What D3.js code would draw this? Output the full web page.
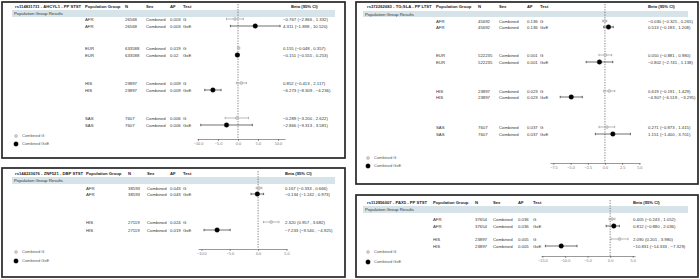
<!DOCTYPE html>
<html>
<head>
<meta charset="utf-8">
<script src="https://cdn.jsdelivr.net/npm/d3@7"></script>
<style>
  body { margin: 0; background: #fff; }
  svg { display: block; font-family: "Liberation Sans", Arial, sans-serif; }
</style>
</head>
<body>
<script>
var width = 700;
var height = 279;

// panel 1 data
var p1Title = "rs114831731 - AHCYL1 - PP STST";
var p1Groups = ["AFR", "AFR", "EUR", "EUR", "HIS", "HIS", "SAS", "SAS"];
var p1N = ["26568", "26568", "633588", "633588", "23897", "23897", "7607", "7607"];
var p1AF = ["0.003", "0.003", "0.019", "0.02", "0.009", "0.009", "0.006", "0.006"];
var p1Test = ["G", "GxE", "G", "GxE", "G", "GxE", "G", "GxE"];
var p1Beta = [-0.767, 4.311, 0.155, -0.151, 0.852, -6.273, -0.289, -2.866];
var p1Lo = [-2.866, -1.898, -0.048, -0.555, -0.413, -8.309, -3.200, -9.313];
var p1Hi = [1.332, 10.520, 0.357, 0.253, 2.117, -4.236, 2.622, 3.581];
var p1Ticks = [-10, -5, 0, 5, 10];

// panel 2 data
var p2Title = "rs372262683 - TG;SLA - PP LTST";
var p2Groups = ["AFR", "AFR", "EUR", "EUR", "HIS", "HIS", "SAS", "SAS"];
var p2N = ["45692", "45692", "522235", "522235", "23897", "23897", "7607", "7607"];
var p2AF = ["0.136", "0.136", "0.001", "0.001", "0.023", "0.023", "0.037", "0.037"];
var p2Test = ["G", "GxE", "G", "GxE", "G", "GxE", "G", "GxE"];
var p2Beta = [-0.030, 0.513, 0.050, -0.802, 0.619, -4.907, 0.271, 1.151];
var p2Lo = [-0.325, -0.183, -0.881, -2.741, -0.191, -6.519, -0.873, -1.400];
var p2Hi = [0.265, 1.208, 0.980, 1.138, 1.429, -3.295, 1.415, 3.701];
var p2Ticks = [-7.5, -5, -2.5, 0, 2.5, 5];

// panel 3 data
var p3Title = "rs144223676 - ZNF521 - DBP STST";
var p3Groups = ["AFR", "AFR", "HIS", "HIS"];
var p3N = ["38593", "38593", "27119", "27119"];
var p3AF = ["0.043", "0.043", "0.024", "0.019"];
var p3Test = ["G", "GxE", "G", "GxE"];
var p3Beta = [0.167, -0.134, 2.320, -7.233];
var p3Lo = [-0.333, -1.242, 0.957, -9.540];
var p3Hi = [0.666, 0.973, 3.682, -4.925];
var p3Ticks = [-10, -5, 0, 5];

// panel 4 data
var p4Title = "rs112956007 - PAX5 - PP STST";
var p4Groups = ["AFR", "AFR", "HIS", "HIS"];
var p4N = ["37654", "37654", "23897", "23897"];
var p4AF = ["0.036", "0.036", "0.005", "0.005"];
var p4Test = ["G", "GxE", "G", "GxE"];
var p4Beta = [0.405, 0.812, 2.090, -10.831];
var p4Lo = [-0.243, -0.880, 0.201, -14.333];
var p4Hi = [1.052, 2.036, 3.980, -7.329];
var p4Ticks = [-15, -10, -5, 0, 5];

var headers = ["Population Group", "N", "Sex", "AF", "Test", "Beta (95% CI)"];
var legendLabels = ["Combined G", "Combined GxE"];

var svg = d3.select("body")
  .append("svg")
  .attr("width", width)
  .attr("height", height);

var fmt = d3.format(".3f");

function drawPanel(d, L) {
  var g = svg.append("g");

  // box
  g.append("rect")
    .attr("x", L.box[0]).attr("y", L.box[1])
    .attr("width", L.box[2] - L.box[0]).attr("height", L.box[3] - L.box[1])
    .attr("fill", "#fff").attr("stroke", "#262626").attr("stroke-width", 1.7);

  // band
  g.append("rect")
    .attr("x", L.band[0]).attr("y", L.band[1])
    .attr("width", L.band[2] - L.band[0]).attr("height", L.band[3] - L.band[1])
    .attr("fill", "#d6e4ea");
  g.append("text")
    .attr("x", L.band[0] + 2).attr("y", (L.band[1] + L.band[3]) / 2 + 1.5)
    .attr("font-size", 4.3).attr("fill", "#333")
    .text("Population Group Results");

  // title + headers
  g.append("text")
    .attr("x", L.cols[0]).attr("y", L.titleY + 1.5)
    .attr("font-size", 4.2).attr("font-weight", "bold").attr("fill", "#222")
    .text(d.title);
  headers.forEach(function(h, i) {
    g.append("text")
      .attr("x", L.cols[i + 1] + (i === 5 ? L.betaHeadShift : 0))
      .attr("y", L.titleY + 1.5)
      .attr("font-size", 4.2).attr("font-weight", "bold").attr("fill", "#222")
      .text(h);
  });

  var x = d3.scaleLinear().domain(L.domain).range(L.range);

  // zero line
  g.append("line")
    .attr("x1", x(0)).attr("x2", x(0))
    .attr("y1", L.titleY - 2).attr("y2", L.axisY)
    .attr("stroke", "#333").attr("stroke-width", 0.6)
    .attr("stroke-dasharray", "1.3,1.3");

  // table rows
  var rows = g.selectAll(".row")
    .data(d.groups.map(function(v, i) { return i; }))
    .enter().append("g")
    .attr("transform", function(i) { return "translate(0," + L.rows[i] + ")"; });

  var cells = [
    function(i) { return d.groups[i]; },
    function(i) { return d.n[i]; },
    function(i) { return "Combined"; },
    function(i) { return d.af[i]; },
    function(i) { return d.test[i]; },
    function(i) { return fmt(d.beta[i]) + " (" + fmt(d.lo[i]) + " , " + fmt(d.hi[i]) + ")"; }
  ];
  cells.forEach(function(f, c) {
    rows.append("text")
      .attr("x", L.cols[c + 1]).attr("y", 1.5)
      .attr("font-size", 4.3).attr("fill", "#333")
      .text(f);
  });

  // CI lines with end caps
  function ciColor(i) { return d.test[i] === "G" ? "#8a8a8a" : "#111"; }
  rows.append("line")
    .attr("x1", function(i) { return x(d.lo[i]); })
    .attr("x2", function(i) { return x(d.hi[i]); })
    .attr("stroke", ciColor)
    .attr("stroke-width", 0.6);
  [d.lo, d.hi].forEach(function(arr) {
    rows.append("line")
      .attr("x1", function(i) { return x(arr[i]); })
      .attr("x2", function(i) { return x(arr[i]); })
      .attr("y1", -1.2).attr("y2", 1.2)
      .attr("stroke", ciColor)
      .attr("stroke-width", 0.6);
  });
  rows.append("circle")
    .attr("cx", function(i) { return x(d.beta[i]); })
    .attr("r", function(i) { return d.test[i] === "G" ? 1.5 : 2.3; })
    .attr("fill", function(i) { return d.test[i] === "G" ? "#d0d0d0" : "#000"; })
    .attr("stroke", function(i) { return d.test[i] === "G" ? "#9a9a9a" : "#000"; })
    .attr("stroke-width", 0.4);

  // axis
  var axis = d3.axisBottom(x).tickValues(d.ticks)
    .tickFormat(d3.format(".1f")).tickSize(2).tickPadding(1.5).tickSizeOuter(0);
  var ax = g.append("g")
    .attr("transform", "translate(0," + L.axisY + ")")
    .call(axis);
  ax.select(".domain").attr("stroke", "#555").attr("stroke-width", 0.6);
  ax.selectAll(".tick line").attr("stroke", "#555").attr("stroke-width", 0.6);
  ax.selectAll(".tick text").attr("font-size", 3.8).attr("fill", "#777")
    .attr("font-family", "Liberation Sans, Arial, sans-serif");

  // legend
  legendLabels.forEach(function(lab, i) {
    g.append("circle")
      .attr("cx", L.legX).attr("cy", L.legY[i])
      .attr("r", i === 0 ? 1.5 : 2.2)
      .attr("fill", i === 0 ? "#d0d0d0" : "#000")
      .attr("stroke", i === 0 ? "#9a9a9a" : "#000").attr("stroke-width", 0.4);
    g.append("text")
      .attr("x", L.legX + 6).attr("y", L.legY[i] + 1.4)
      .attr("font-size", 4.0).attr("fill", "#555")
      .text(lab);
  });
}

drawPanel(
  { title: p1Title, groups: p1Groups, n: p1N, af: p1AF, test: p1Test,
    beta: p1Beta, lo: p1Lo, hi: p1Hi, ticks: p1Ticks },
  { box: [2, 2, 345, 158], band: [12, 10, 335, 17], titleY: 6,
    cols: [15, 85, 125, 146, 170, 183, 283], betaHeadShift: 8,
    rows: [19, 26, 48, 55, 83, 90, 118, 125],
    domain: [-10.25, 11.75], range: [197, 285], axisY: 139,
    legX: 16, legY: [136, 144] });

drawPanel(
  { title: p2Title, groups: p2Groups, n: p2N, af: p2AF, test: p2Test,
    beta: p2Beta, lo: p2Lo, hi: p2Hi, ticks: p2Ticks },
  { box: [356, 2, 698, 184], band: [363, 11, 688, 17], titleY: 6,
    cols: [367, 436, 478, 499, 527, 540, 648], betaHeadShift: 0,
    rows: [21, 27, 55, 62, 91, 97, 127, 134],
    domain: [-8, 5.1], range: [550, 640], axisY: 163,
    legX: 368, legY: [158, 166] });

drawPanel(
  { title: p3Title, groups: p3Groups, n: p3N, af: p3AF, test: p3Test,
    beta: p3Beta, lo: p3Lo, hi: p3Hi, ticks: p3Ticks },
  { box: [2, 168, 345, 277], band: [12, 177, 335, 184], titleY: 173,
    cols: [15, 86, 128, 147, 170, 183, 285], betaHeadShift: 0,
    rows: [188, 194, 222, 230],
    domain: [-10.6, 5.1], range: [198, 287], axisY: 249,
    legX: 16, legY: [252, 261] });

drawPanel(
  { title: p4Title, groups: p4Groups, n: p4N, af: p4AF, test: p4Test,
    beta: p4Beta, lo: p4Lo, hi: p4Hi, ticks: p4Ticks },
  { box: [356, 195, 698, 277], band: [363, 206, 688, 213], titleY: 202,
    cols: [367, 433, 475, 493, 518, 533, 633], betaHeadShift: 0,
    rows: [219, 226, 239, 246],
    domain: [-15.3, 5.5], range: [541, 635], axisY: 256,
    legX: 368, legY: [252, 262] });
</script>
</body>
</html>
